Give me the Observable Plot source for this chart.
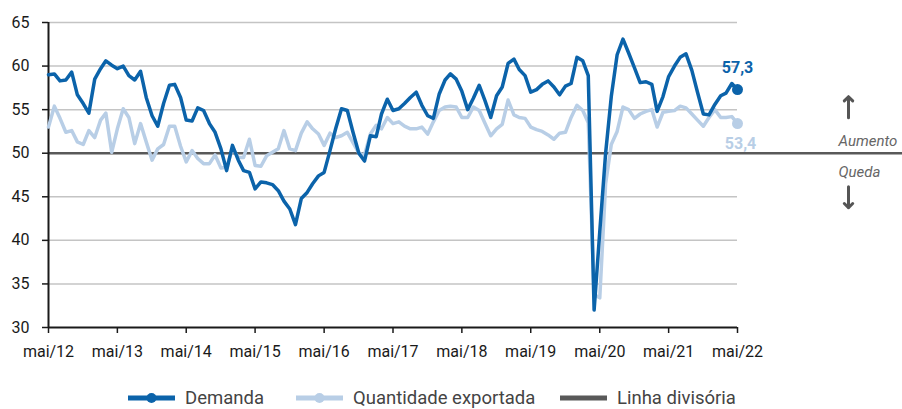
<!DOCTYPE html>
<html>
<head>
<meta charset="utf-8">
<script src="https://cdn.jsdelivr.net/npm/d3@7"></script>
<script src="https://cdn.jsdelivr.net/npm/@observablehq/plot@0.6"></script>
<style>
  body { margin: 0; background: #fff; font-family: Roboto, "DejaVu Sans", sans-serif; }
  #wrap { position: relative; width: 902px; height: 409px; overflow: hidden; }
  .leg { position: absolute; top: 386px; height: 24px; display: flex; align-items: center; font-size: 18.5px; color: #444; white-space: nowrap; }
  .leg svg { margin-right: 10px; }
</style>
</head>
<body>
<div id="wrap"></div>
<script>
// monthly series, May 2012 – May 2022
const startYear = 2012, startMonth = 4; // May
const demanda = [
  59.0, 59.1, 58.3, 58.4, 59.3, 56.7, 55.7, 54.6, 58.5, 59.7, 60.6, 60.1,
  59.7, 60.0, 58.9, 58.4, 59.4, 56.4, 54.3, 53.1, 55.7, 57.8, 57.9, 56.4,
  53.8, 53.7, 55.2, 54.9, 53.4, 52.4, 50.5, 48.0, 50.9, 49.2, 48.0, 47.8,
  45.9, 46.7, 46.6, 46.4, 45.7, 44.5, 43.6, 41.8, 44.8, 45.5, 46.5, 47.4,
  47.8, 50.3, 52.8, 55.1, 54.9, 52.4, 50.0, 49.1, 52.0, 51.9, 54.5, 56.2,
  54.9, 55.1, 55.7, 56.4, 57.0, 55.5, 54.3, 54.0, 56.8, 58.4, 59.1, 58.5,
  57.1, 55.0, 56.3, 57.8, 56.0, 54.1, 56.6, 57.6, 60.3, 60.8, 59.6, 58.9,
  57.0, 57.3, 57.9, 58.3, 57.6, 56.7, 57.7, 58.0, 61.0, 60.6, 58.9, 32.0,
  41.0, 50.0, 56.5, 61.3, 63.1, 61.5, 59.8, 58.1, 58.2, 57.9, 54.8, 56.5,
  58.8, 60.0, 61.0, 61.4, 59.5, 57.0, 54.5, 54.4, 55.6, 56.6, 56.9, 58.0,
  57.3
];
const exportada = [
  53.0, 55.4, 54.0, 52.4, 52.6, 51.3, 51.0, 52.6, 51.8, 53.8, 54.6, 50.1,
  52.8, 55.1, 54.1, 51.1, 53.4, 51.3, 49.2, 50.5, 51.0, 53.1, 53.1, 50.8,
  49.0, 50.3, 49.4, 48.8, 48.8, 49.8, 48.3, 48.4, 50.5, 49.5, 49.5, 51.6,
  48.6, 48.5, 49.7, 50.1, 50.5, 52.6, 50.5, 50.3, 52.3, 53.6, 52.8, 52.2,
  50.9, 52.3, 51.8, 52.0, 52.4, 51.2, 50.0, 49.8, 52.2, 53.2, 52.8, 54.1,
  53.4, 53.6, 53.1, 52.8, 52.8, 53.0, 52.2, 53.6, 54.9, 55.3, 55.4, 55.3,
  54.1, 54.1, 55.3, 54.9, 53.4, 52.0, 52.8, 53.3, 56.1, 54.4, 54.1, 54.0,
  53.0, 52.7, 52.5, 52.1, 51.6, 52.3, 52.4, 54.1, 55.5, 54.9, 53.5, 33.8,
  33.4, 46.5, 51.0, 52.5, 55.3, 55.0, 54.0, 54.5, 54.8, 55.0, 53.0, 54.7,
  54.8, 54.9, 55.4, 55.2, 54.5, 53.8, 53.1, 54.1, 55.0, 54.1, 54.1, 54.2,
  53.4
];
const xTickLabels = ["mai/12","mai/13","mai/14","mai/15","mai/16","mai/17","mai/18","mai/19","mai/20","mai/21","mai/22"];
const yTicks = [30, 35, 40, 45, 50, 55, 60, 65];
const gridTicks = [35, 40, 45, 55, 60, 65];
const divider = 50;
const seriesNames = ["Demanda", "Quantidade exportada", "Linha divisória"];
const notes = [
  {label: "Aumento", dir: -1},
  {label: "Queda", dir: 1}
];

const dark = "#0b63aa";
const light = "#b8cee6";
const gray = "#595959";

const start = new Date(Date.UTC(startYear, startMonth, 1));
const rows = demanda.map((v, i) => ({
  date: d3.utcMonth.offset(start, i),
  demanda: v,
  exportada: exportada[i]
}));
const last = rows[rows.length - 1];
const tickDates = xTickLabels.map((_, k) => d3.utcYear.offset(start, k));
const fmt = v => v.toFixed(1).replace(".", ",");

const noteText = (n, dy) => Plot.text([n], {frameAnchor: "right", y: () => divider, text: "label", dx: 101, dy, textAnchor: "start", fill: "#666", fontStyle: "italic", fontSize: 15});
const noteArrow = (n, dy) => Plot.vector([n], {frameAnchor: "right", y: () => divider, dx: 111, dy, length: 21, rotate: n.dir < 0 ? 0 : 180, anchor: "middle", shape: "arrow", stroke: "#555", strokeWidth: 3});

const chart = Plot.plot({
  width: 902,
  height: 365,
  marginLeft: 48,
  marginRight: 165,
  marginTop: 22,
  marginBottom: 38,
  style: {fontFamily: "Roboto, 'DejaVu Sans', sans-serif", fontSize: "16px", color: "#1a1a1a", background: "#fff", overflow: "visible"},
  x: {type: "utc", domain: [start, last.date]},
  y: {domain: [30, 65]},
  marks: [
    Plot.gridY(gridTicks, {stroke: "#c4c4c4", strokeOpacity: 1, strokeWidth: 1.5}),
    Plot.ruleY([divider], {stroke: gray, strokeWidth: 2.5, insetRight: -165}),
    Plot.axisY(yTicks, {tickSize: 6, tickPadding: 13, stroke: "#1a1a1a", strokeWidth: 1.5, label: null, tickFormat: d => d, fontSize: 16}),
    Plot.axisX(tickDates, {tickSize: 6, tickPadding: 12, stroke: "#1a1a1a", strokeWidth: 1.5, label: null, tickFormat: (d, i) => xTickLabels[i], fontSize: 16}),
    Plot.ruleY([30], {stroke: "#1a1a1a", strokeWidth: 2}),
    Plot.ruleX([start], {stroke: "#1a1a1a", strokeWidth: 2}),
    Plot.lineY(rows, {x: "date", y: "exportada", stroke: light, strokeWidth: 3.5, strokeLinejoin: "round"}),
    Plot.lineY(rows, {x: "date", y: "demanda", stroke: dark, strokeWidth: 3.5, strokeLinejoin: "round"}),
    Plot.dot([last], {x: "date", y: "exportada", r: 5.5, fill: light}),
    Plot.dot([last], {x: "date", y: "demanda", r: 5.5, fill: dark}),
    Plot.text([last], {x: "date", y: "demanda", text: d => fmt(d.demanda), dy: -22, fill: dark, fontWeight: "bold", fontSize: 16}),
    Plot.text([last], {x: "date", y: "exportada", text: d => fmt(d.exportada), dy: 20, dx: 3, fill: light, fontWeight: "bold", fontSize: 16}),
    noteText(notes[0], -12),
    noteText(notes[1], 19),
    noteArrow(notes[0], -46),
    noteArrow(notes[1], 44)
  ]
});

const wrap = document.getElementById("wrap");
wrap.appendChild(chart);

const legendItems = [
  {name: seriesNames[0], color: dark, dot: true, left: 128},
  {name: seriesNames[1], color: light, dot: true, left: 296},
  {name: seriesNames[2], color: gray, dot: false, left: 560}
];
for (const it of legendItems) {
  const div = document.createElement("div");
  div.className = "leg";
  div.style.left = it.left + "px";
  div.innerHTML = `<svg width="47" height="14"><line x1="0" x2="47" y1="7" y2="7" stroke="${it.color}" stroke-width="5"/>${it.dot ? `<circle cx="23.5" cy="7" r="5" fill="${it.color}"/>` : ""}</svg><span>${it.name}</span>`;
  wrap.appendChild(div);
}
</script>
</body>
</html>
